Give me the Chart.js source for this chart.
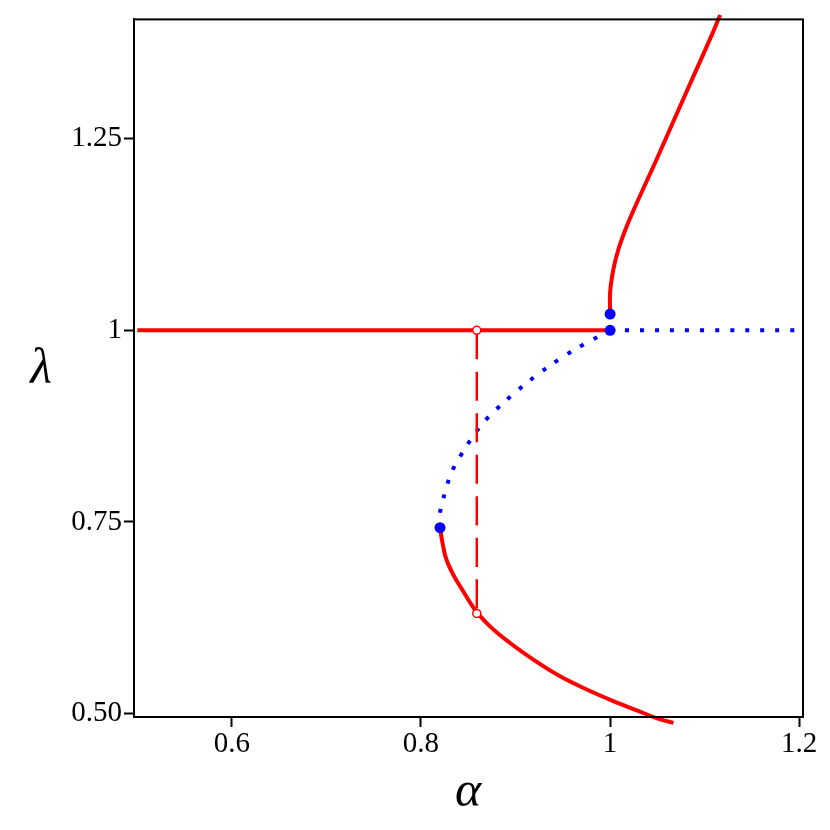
<!DOCTYPE html>
<html>
<head>
<meta charset="utf-8">
<script src="https://cdn.jsdelivr.net/npm/chart.js@4.4.1/dist/chart.umd.min.js"></script>
<style>
  html, body { margin: 0; padding: 0; background: #fff; }
  #wrap { width: 830px; height: 830px; }
</style>
</head>
<body>
<div id="wrap"><canvas id="c" width="830" height="830"></canvas></div>
<script>
/* ========= DATA ========= */
// stable branch above the fold (red, solid)
const upperAlpha  = [1.0, 1.0, 1.0035, 1.0088, 1.0177, 1.0283, 1.0476, 1.067, 1.0881, 1.1076, 1.1164];
const upperLambda = [1.0212, 1.0494, 1.0797, 1.1057, 1.1361, 1.1664, 1.2185, 1.2727, 1.3312, 1.3853, 1.4113];

// stable branch below the fold (red, solid)
const lowerAlpha  = [0.8201, 0.8219, 0.8254, 0.8325, 0.8448, 0.8571, 0.873, 0.8942, 0.9188, 0.9471, 0.9753, 1.0035, 1.0283, 1.0529, 1.067];
const lowerLambda = [0.7425, 0.7286, 0.707, 0.6853, 0.6593, 0.6355, 0.6138, 0.5921, 0.5705, 0.5488, 0.5315, 0.5163, 0.5042, 0.4925, 0.488];

// unstable branch (blue, dotted)
const unstAlpha  = [0.8201, 0.8200, 0.8236, 0.8325, 0.8483, 0.8659, 0.8881, 0.9119, 0.9365, 0.9619, 0.9894, 1.0];
const unstLambda = [0.7425, 0.761, 0.7806, 0.8153, 0.8492, 0.8795, 0.9064, 0.9315, 0.9541, 0.9744, 0.9931, 1.0];

// trivial branch lambda = 1
const trivStableAlpha   = [0.5, 1.0];
const trivUnstableAlpha = [1.0, 1.205];
const trivLambda        = [1.0, 1.0];

// jump (red, dashed) and its end markers
const jumpAlpha  = [0.859, 0.859];
const jumpLambda = [1.0, 0.6307];

// bifurcation points (blue dots)
const bifAlpha  = [1.0, 1.0, 0.8201];
const bifLambda = [1.0, 1.0212, 0.7425];

// axes
const xTicks = [0.6, 0.8, 1, 1.2];
const xTickLabels = ['0.6', '0.8', '1', '1.2'];
const yTicks = [0.5, 0.75, 1, 1.25];
const yTickLabels = ['0.50', '0.75', '1', '1.25'];
const xRange = [0.4965, 1.204];
const yRange = [0.4956, 1.4055];

/* ========= HELPERS ========= */
const pts = (xs, ys) => xs.map((x, i) => ({ x: x, y: ys[i] }));
const RED = '#ff0000';
const BLUE = '#0000ff';
const serif = '"Liberation Serif", "DejaVu Serif", serif';

const frame = {
  id: 'frame',
  afterDraw(chart) {
    const { ctx, chartArea: a } = chart;
    ctx.save();
    ctx.strokeStyle = '#000';
    ctx.lineWidth = 2;
    ctx.strokeRect(a.left, a.top, a.right - a.left, a.bottom - a.top);
    // axis titles, upright like the original
    ctx.fillStyle = '#000';
    ctx.font = 'italic 50px ' + serif;
    ctx.textAlign = 'center';
    ctx.textBaseline = 'middle';
    ctx.fillText('λ', 41, 370);
    ctx.fillText('α', 468, 793);
    ctx.restore();
  }
};

const line = (data, color, width, dash, order, mono) => ({
  type: 'line',
  data: data,
  borderColor: color,
  borderWidth: width,
  borderDash: dash,
  pointRadius: 0,
  tension: 0.3,
  cubicInterpolationMode: mono ? 'monotone' : 'default',
  fill: false,
  order: order,
  clip: { left: 0, right: 0, top: 8, bottom: 8 }
});

/* ========= CHART ========= */
new Chart(document.getElementById('c'), {
  type: 'scatter',
  data: {
    datasets: [
      line(pts(trivStableAlpha, trivLambda), RED, 4, [], 2),
      line(pts(upperAlpha, upperLambda), RED, 4, [], 2),
      line(pts(lowerAlpha, lowerLambda), RED, 4, [], 2, true),
      line(pts(jumpAlpha, jumpLambda), RED, 2.5, [29, 12.5], 2),
      line(pts(unstAlpha, unstLambda), BLUE, 4, [4, 11], 3),
      line(pts(trivUnstableAlpha, trivLambda), BLUE, 4, [4, 11], 3),
      {
        data: pts(jumpAlpha, jumpLambda),
        pointRadius: 4,
        pointBorderWidth: 1.5,
        pointBackgroundColor: '#fff',
        pointBorderColor: RED,
        showLine: false,
        order: 1
      },
      {
        data: pts(bifAlpha, bifLambda),
        pointRadius: 5.5,
        pointBorderWidth: 0,
        pointBackgroundColor: BLUE,
        pointBorderColor: BLUE,
        showLine: false,
        order: 0
      }
    ]
  },
  options: {
    responsive: false,
    animation: false,
    layout: { padding: { left: 0, right: 27, top: 17, bottom: 0 } },
    plugins: { legend: { display: false }, tooltip: { enabled: false } },
    scales: {
      x: {
        type: 'linear',
        min: xRange[0], max: xRange[1],
        afterBuildTicks: s => { s.ticks = xTicks.map(v => ({ value: v })); },
        afterFit: s => { s.height = 113; },
        ticks: {
          callback: (v) => xTickLabels[xTicks.indexOf(v)],
          color: '#000',
          font: { family: serif, size: 29 },
          padding: 0,
          maxRotation: 0
        },
        grid: { drawOnChartArea: false, tickLength: 10, tickColor: '#000', tickWidth: 2 },
        border: { color: '#000', width: 2 }
      },
      y: {
        type: 'linear',
        min: yRange[0], max: yRange[1],
        afterBuildTicks: s => { s.ticks = yTicks.map(v => ({ value: v })); },
        afterFit: s => { s.width = 134; },
        ticks: {
          callback: (v) => yTickLabels[yTicks.indexOf(v)],
          color: '#000',
          font: { family: serif, size: 29 },
          padding: 2
        },
        grid: { drawOnChartArea: false, tickLength: 10, tickColor: '#000', tickWidth: 2 },
        border: { color: '#000', width: 2 }
      }
    }
  },
  plugins: [frame]
});
</script>
</body>
</html>
